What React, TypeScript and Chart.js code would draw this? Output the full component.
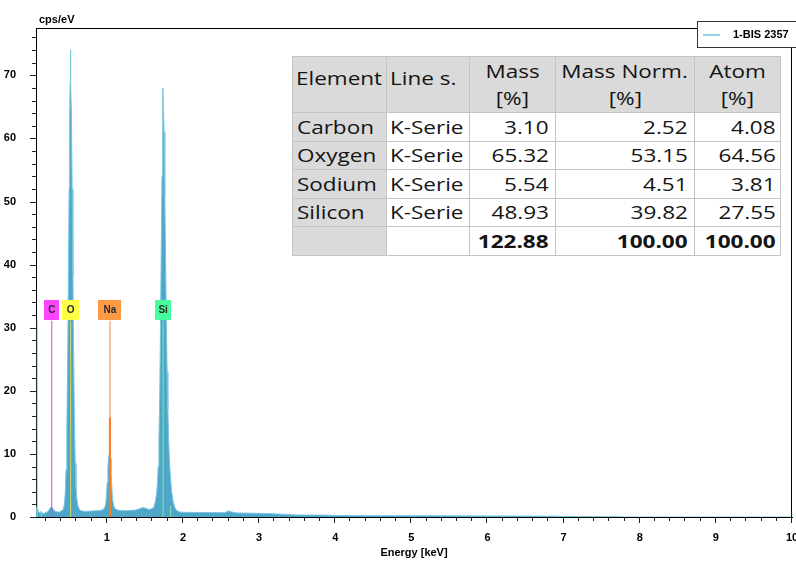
import React, { useEffect, useRef } from 'react';
import { Chart, registerables } from 'chart.js';

Chart.register(...registerables);

// ---- Spectrum (energy in keV, intensity in cps/eV) ----
const energyKeV = [
  0.07, 0.08, 0.09, 0.10, 0.12, 0.14, 0.16, 0.18, 0.20, 0.22, 0.24, 0.26, 0.28, 0.30, 0.32, 0.35, 0.38, 0.41, 0.43,
  0.445, 0.455, 0.465, 0.475, 0.485, 0.495, 0.505, 0.512, 0.518, 0.522, 0.527, 0.535, 0.545, 0.555, 0.565, 0.575, 0.585, 0.595, 0.605,
  0.62, 0.64, 0.66, 0.70, 0.75, 0.80, 0.85, 0.90, 0.94, 0.97,
  0.985, 0.995, 1.005, 1.015, 1.025, 1.035, 1.045, 1.055, 1.065, 1.075, 1.09, 1.11, 1.14,
  1.20, 1.26, 1.32, 1.38, 1.43, 1.47, 1.51, 1.55, 1.59, 1.62,
  1.64, 1.655, 1.665, 1.675, 1.685, 1.695, 1.705, 1.715, 1.725, 1.732, 1.738, 1.744, 1.752, 1.762, 1.772, 1.782, 1.792, 1.802, 1.812, 1.822, 1.835, 1.85, 1.87, 1.89, 1.92, 1.96,
  2.00, 2.20, 2.40, 2.55, 2.60, 2.64, 2.70, 2.90, 3.10, 3.30, 3.50, 3.80, 4.10, 4.50, 5.00, 5.50, 6.00, 6.50, 6.90, 7.00, 7.40, 7.70, 7.80, 10.0,
];
const intensityCps = [
  1.1, 1.6, 1.3, 0.9, 0.6, 0.9, 0.5, 0.6, 0.7, 0.8, 1.1, 1.5, 1.6, 1.2, 0.9, 0.8, 0.8, 1.0, 1.3,
  2.2, 4.0, 7.5, 14, 24, 37, 52, 63, 69, 74, 69, 64, 52, 38, 25, 15, 8.5, 5, 3,
  1.8, 1.2, 1.0, 0.9, 0.9, 0.95, 1.0, 1.0, 1.1, 1.4,
  2.0, 3.0, 5.5, 8.0, 9.6, 10.0, 9.2, 7.2, 5.0, 2.9, 1.8, 1.3, 1.1,
  1.0, 1.0, 1.05, 1.1, 1.3, 1.5, 1.4, 1.2, 1.3, 1.6,
  2.6, 3.8, 5.5, 8, 12.5, 19, 30, 42, 54, 63, 68, 65, 61, 51, 41, 31, 23, 17, 12.5, 9, 6.5, 4.2, 2.5, 1.6, 1.0, 0.8,
  0.75, 0.72, 0.7, 0.68, 0.95, 0.8, 0.65, 0.6, 0.55, 0.45, 0.32, 0.3, 0.22, 0.2, 0.2, 0.18, 0.16, 0.14, 0.12, 0.06, 0.05, 0.03, 0, 0,
];

// ---- Element markers ----
const markerNames = ['C', 'O', 'Na', 'Si'];
const markerEnergies = [0.277, 0.525, 1.041, 1.740];
const markerTopCps = 31.1;
const naFitTopCps = 15.8;
const extraLineEnergies = [0.087, 0.14, 1.838];
const extraLineTops = [31.1, 1.0, 1.7];

// ---- Axis ticks ----
const xTickValues = [1, 2, 3, 4, 5, 6, 7, 8, 9, 10];
const yTickValues = [0, 10, 20, 30, 40, 50, 60, 70];

// ---- Quantification table ----
const tableElements = ['Carbon', 'Oxygen', 'Sodium', 'Silicon'];
const tableLineSeries = ['K-Serie', 'K-Serie', 'K-Serie', 'K-Serie'];
const massPct = ['3.10', '65.32', '5.54', '48.93'];
const massNormPct = ['2.52', '53.15', '4.51', '39.82'];
const atomPct = ['4.08', '64.56', '3.81', '27.55'];
const totalsRow = ['122.88', '100.00', '100.00'];

const seriesLabel = '1-BIS 2357';

// styles
const markerBoxColors = ['#ff44ff', '#ffff44', '#ff9a44', '#44ff9c'];
const markerLineColors = ['#d448d4', '#d6d65a', '#f08a3a', '#7ee89a'];
const markerBoxWidths = [15, 17, 23, 16];
const AXIS_FONT = '"Liberation Sans", Arial, sans-serif';

const decorPlugin = {
  id: 'decor',
  afterDraw(chart: any) {
    const { ctx, chartArea, scales } = chart;
    const { left, right, top, bottom } = chartArea;
    const xs = scales.x;
    const ys = scales.y;
    ctx.save();
    ctx.strokeStyle = '#000';
    ctx.lineWidth = 1;
    // frame top/right
    ctx.beginPath();
    ctx.moveTo(left, Math.round(top) + 0.5);
    ctx.lineTo(right, Math.round(top) + 0.5);
    ctx.moveTo(Math.round(right) - 0.5, top);
    ctx.lineTo(Math.round(right) - 0.5, bottom);
    ctx.stroke();

    // y ticks (major + minor)
    ctx.strokeStyle = '#222';
    ctx.beginPath();
    for (let k = 0; k <= 38; k++) {
      const v = k * 2;
      const py = Math.round(ys.getPixelForValue(v)) + 0.5;
      const len = v % 10 === 0 ? 6 : 4;
      ctx.moveTo(left - len, py);
      ctx.lineTo(left, py);
    }
    // x ticks
    for (let k = 1; k <= 50; k++) {
      const e = k / 5;
      const px = Math.round(xs.getPixelForValue(e)) - 0.5;
      const len = k % 5 === 0 ? 6 : 4;
      ctx.moveTo(px, bottom);
      ctx.lineTo(px, bottom + len);
    }
    ctx.stroke();

    // axis titles
    ctx.fillStyle = '#000';
    ctx.font = `bold 11px ${AXIS_FONT}`;
    ctx.textBaseline = 'middle';
    ctx.textAlign = 'left';
    ctx.fillText('cps/eV', 39, 20);
    ctx.textAlign = 'center';
    ctx.fillText('Energy [keV]', (left + right) / 2, 553);

    // legend box
    ctx.fillStyle = '#fff';
    ctx.fillRect(697, 21, 100, 26);
    ctx.strokeStyle = '#333';
    ctx.strokeRect(697.5, 21.5, 100, 26);
    ctx.strokeStyle = '#6ec6e6';
    ctx.lineWidth = 1.5;
    ctx.beginPath();
    ctx.moveTo(703, 35);
    ctx.lineTo(720, 35);
    ctx.stroke();
    ctx.fillStyle = '#000';
    ctx.textAlign = 'left';
    ctx.fillText(seriesLabel, 733, 35);

    // element label boxes
    ctx.font = `bold 10px ${AXIS_FONT}`;
    markerEnergies.forEach((e, i) => {
      const px = xs.getPixelForValue(e);
      const py = ys.getPixelForValue(markerTopCps);
      const w = markerBoxWidths[i];
      ctx.fillStyle = markerBoxColors[i];
      ctx.fillRect(Math.round(px - w / 2), Math.round(py) - 21, w, 20);
      ctx.fillStyle = '#2a2a2a';
      ctx.textAlign = 'center';
      ctx.fillText(markerNames[i], px, Math.round(py) - 11);
    });
    ctx.restore();
  },
};

function EdsTable() {
  const border = '1px solid #c4c4c4';
  const gray = '#dadada';
  const S = 1.25;
  const txt = (t: string, align: 'left' | 'right' | 'center', bold = false) => (
    <span
      style={{
        display: 'inline-block',
        transform: `scaleX(${S})`,
        transformOrigin: align === 'left' ? 'left center' : align === 'right' ? 'right center' : 'center center',
        fontWeight: bold ? 700 : 400,
        whiteSpace: 'nowrap',
      }}
    >
      {t}
    </span>
  );
  const colW = [94, 83, 86, 139, 86];
  const base: React.CSSProperties = { border, padding: 0, boxSizing: 'border-box', verticalAlign: 'middle' };
  const rowH = [29, 28, 29, 28, 29];
  return (
    <table
      style={{
        position: 'absolute',
        left: 292,
        top: 56,
        borderCollapse: 'collapse',
        fontFamily: '"Open Sans", sans-serif',
        fontSize: 18,
        lineHeight: '27px',
        color: '#141414',
        tableLayout: 'fixed',
        background: '#fff',
        border,
      }}
    >
      <colgroup>
        {colW.map((w, i) => (
          <col key={i} style={{ width: w }} />
        ))}
      </colgroup>
      <tbody>
        <tr style={{ height: 56 }}>
          <td style={{ ...base, background: gray, paddingLeft: 3, textAlign: 'left', verticalAlign: 'top', paddingTop: 8 }}>{txt('Element', 'left')}</td>
          <td style={{ ...base, background: gray, paddingLeft: 3, textAlign: 'left', verticalAlign: 'top', paddingTop: 8 }}>{txt('Line s.', 'left')}</td>
          <td style={{ ...base, background: gray, textAlign: 'center' }}>
            {txt('Mass', 'center')}
            <br />
            {txt('[%]', 'center')}
          </td>
          <td style={{ ...base, background: gray, textAlign: 'center' }}>
            {txt('Mass Norm.', 'center')}
            <br />
            {txt('[%]', 'center')}
          </td>
          <td style={{ ...base, background: gray, textAlign: 'center' }}>
            {txt('Atom', 'center')}
            <br />
            {txt('[%]', 'center')}
          </td>
        </tr>
        {tableElements.map((el, i) => (
          <tr key={el} style={{ height: rowH[i] }}>
            <td style={{ ...base, background: gray, paddingLeft: 4, textAlign: 'left' }}>{txt(el, 'left')}</td>
            <td style={{ ...base, paddingLeft: 3, textAlign: 'left' }}>{txt(tableLineSeries[i], 'left')}</td>
            <td style={{ ...base, paddingRight: 6, textAlign: 'right' }}>{txt(massPct[i], 'right')}</td>
            <td style={{ ...base, paddingRight: 6, textAlign: 'right' }}>{txt(massNormPct[i], 'right')}</td>
            <td style={{ ...base, paddingRight: 4, textAlign: 'right' }}>{txt(atomPct[i], 'right')}</td>
          </tr>
        ))}
        <tr style={{ height: rowH[4] }}>
          <td style={{ ...base, background: gray }}></td>
          <td style={{ ...base }}></td>
          <td style={{ ...base, paddingRight: 6, textAlign: 'right' }}>{txt(totalsRow[0], 'right', true)}</td>
          <td style={{ ...base, paddingRight: 6, textAlign: 'right' }}>{txt(totalsRow[1], 'right', true)}</td>
          <td style={{ ...base, paddingRight: 4, textAlign: 'right' }}>{txt(totalsRow[2], 'right', true)}</td>
        </tr>
      </tbody>
    </table>
  );
}

export default function App() {
  const canvasRef = useRef<HTMLCanvasElement | null>(null);

  useEffect(() => {
    if (!canvasRef.current) return;
    const tickFont = { family: AXIS_FONT, size: 11, weight: 'bold' as const };

    const markerSets = markerEnergies.map((e, i) => ({
      type: 'line' as const,
      label: markerNames[i],
      data: [
        { x: e, y: 0 },
        { x: e, y: markerTopCps },
      ],
      borderColor: markerLineColors[i],
      borderWidth: 1,
      pointRadius: 0,
      fill: false,
      order: 1,
    }));
    const extraSets = extraLineEnergies.map((e, i) => ({
      type: 'line' as const,
      label: 'extra' + i,
      data: [
        { x: e, y: 0 },
        { x: e, y: extraLineTops[i] },
      ],
      borderColor: '#7ee8a8',
      borderWidth: 1,
      pointRadius: 0,
      fill: false,
      order: 1,
    }));
    const naFit = {
      type: 'line' as const,
      label: 'Na fit',
      data: [
        { x: markerEnergies[2], y: 0 },
        { x: markerEnergies[2], y: naFitTopCps },
      ],
      borderColor: '#ff7a1a',
      borderWidth: 2,
      pointRadius: 0,
      fill: false,
      order: 0,
    };

    const chart = new Chart(canvasRef.current, {
      type: 'line',
      data: {
        datasets: [
          naFit,
          ...markerSets,
          ...extraSets,
          {
            type: 'line',
            label: seriesLabel,
            data: energyKeV.map((x, i) => ({ x, y: intensityCps[i] })),
            borderColor: '#76c5e2',
            backgroundColor: '#4ea6c9',
            borderWidth: 1,
            pointRadius: 0,
            fill: 'origin',
            tension: 0,
            order: 10,
          },
        ] as any,
      },
      options: {
        animation: false,
        responsive: false,
        events: [],
        layout: { padding: { left: 0, top: 28, right: 4, bottom: 0 } },
        plugins: { legend: { display: false }, tooltip: { enabled: false }, title: { display: false } },
        scales: {
          x: {
            type: 'linear',
            min: 0.07,
            max: 10,
            grid: { display: false },
            border: { display: true, color: '#000', width: 1 },
            ticks: { font: tickFont, color: '#000', padding: 6, maxRotation: 0, autoSkip: false },
            afterBuildTicks: (s: any) => {
              s.ticks = xTickValues.map((v) => ({ value: v }));
            },
            afterFit: (s: any) => {
              s.height = 44;
              s.paddingLeft = 0;
              s.paddingRight = 0;
            },
          },
          y: {
            type: 'linear',
            min: 0,
            max: 77.5,
            grid: { display: false },
            border: { display: true, color: '#000', width: 1 },
            ticks: { font: tickFont, color: '#000', padding: 12, autoSkip: false },
            afterBuildTicks: (s: any) => {
              s.ticks = yTickValues.map((v) => ({ value: v }));
            },
            afterFit: (s: any) => {
              s.width = 36;
              s.paddingTop = 0;
              s.paddingBottom = 0;
            },
          },
        },
      },
      plugins: [decorPlugin],
    });
    return () => chart.destroy();
  }, []);

  return (
    <div style={{ position: 'absolute', left: 0, top: 0, width: 796, height: 561, background: '#fff', overflow: 'hidden' }}>
      <canvas ref={canvasRef} width={796} height={561} style={{ display: 'block' }} />
      <EdsTable />
    </div>
  );
}
